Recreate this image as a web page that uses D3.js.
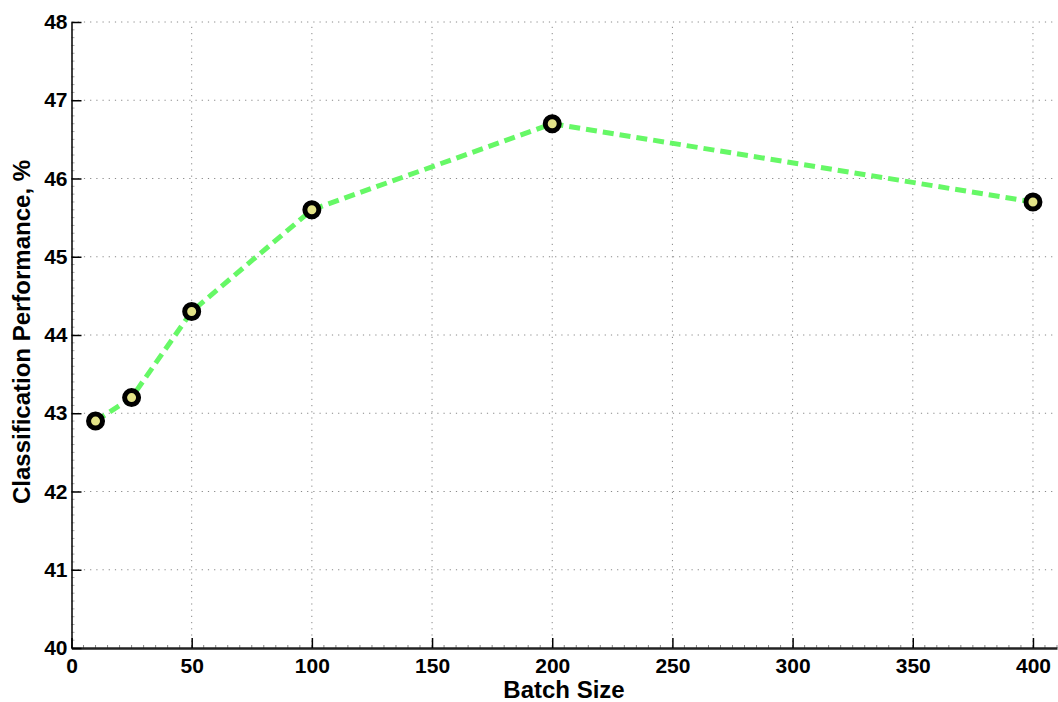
<!DOCTYPE html>
<html>
<head>
    <title>Batch Size vs Classification Performance</title>
    <style>
        body {
            margin: 0;
            padding: 0;
            background: #fff;
            font-family: "Liberation Sans", Arial, sans-serif;
        }
        .tick-label {
            font-weight: bold;
            font-size: 21px;
            fill: #000;
        }
        .axis-title {
            font-weight: bold;
            font-size: 24px;
            fill: #000;
        }
    </style>
</head>
<body>
    <div id="chart"></div>

    <script src="https://d3js.org/d3.v7.min.js"></script>
    <script>
        // data
        const batchSizes = [10, 25, 50, 100, 200, 400];
        const performance = [42.9, 43.2, 44.3, 45.6, 46.7, 45.7];
        const xTicks = [0, 50, 100, 150, 200, 250, 300, 350, 400];
        const yTicks = [40, 41, 42, 43, 44, 45, 46, 47, 48];

        const width = 1058, height = 702;
        const svg = d3.select('#chart').append('svg')
            .attr('width', width)
            .attr('height', height);

        const x = d3.scaleLinear().domain([0, 410]).range([71.5, 1057]);
        const y = d3.scaleLinear().domain([40, 48]).range([648, 22]);

        // dotted grid
        const grid = svg.append('g');
        grid.selectAll('line.gx')
            .data(xTicks.slice(1))
            .enter().append('line')
            .attr('x1', d => x(d)).attr('x2', d => x(d))
            .attr('y1', y(40)).attr('y2', y(48))
            .attr('stroke', '#888')
            .attr('stroke-width', 1)
            .attr('stroke-dasharray', '1.2,5');
        grid.selectAll('line.gy')
            .data(yTicks.slice(1))
            .enter().append('line')
            .attr('x1', x(0)).attr('x2', x(410))
            .attr('y1', d => y(d)).attr('y2', d => y(d))
            .attr('stroke', '#888')
            .attr('stroke-width', 1)
            .attr('stroke-dasharray', '1.2,5');

        // minor ticks
        const xMinor = d3.range(0, 411, 5);
        svg.append('g').selectAll('line')
            .data(xMinor)
            .enter().append('line')
            .attr('x1', d => x(d)).attr('x2', d => x(d))
            .attr('y1', y(40)).attr('y2', y(40) - 3)
            .attr('stroke', '#888');
        const yMinor = d3.range(40, 48.01, 0.1);
        svg.append('g').selectAll('line')
            .data(yMinor)
            .enter().append('line')
            .attr('x1', x(0)).attr('x2', x(0) + 3)
            .attr('y1', d => y(d)).attr('y2', d => y(d))
            .attr('stroke', '#aaa');

        // x axis (ticks inside)
        const xAxis = svg.append('g')
            .attr('transform', `translate(0,${y(40)})`)
            .call(d3.axisBottom(x).tickValues(xTicks).tickSizeInner(-10).tickSizeOuter(0).tickPadding(10));
        xAxis.select('.domain').attr('stroke', '#222').attr('stroke-width', 2.5);
        xAxis.selectAll('.tick line').attr('stroke', '#000').attr('stroke-width', 1.5);
        xAxis.selectAll('.tick text')
            .attr('class', 'tick-label')
            .attr('font-family', null)
            .attr('font-size', null);

        // y axis (ticks inside)
        const yAxis = svg.append('g')
            .attr('transform', `translate(${x(0)},0)`)
            .call(d3.axisLeft(y).tickValues(yTicks).tickSizeInner(-10).tickSizeOuter(0).tickPadding(4));
        yAxis.select('.domain').attr('stroke', '#000').attr('stroke-width', 1.5);
        yAxis.selectAll('.tick line').attr('stroke', '#000').attr('stroke-width', 1.5);
        yAxis.selectAll('.tick text')
            .attr('class', 'tick-label')
            .attr('font-family', null)
            .attr('font-size', null);

        // dashed series line
        const points = batchSizes.map((b, i) => ({ b, p: performance[i] }));
        const line = d3.line().x(d => x(d.b)).y(d => y(d.p));
        svg.append('path')
            .datum(points)
            .attr('d', line)
            .attr('fill', 'none')
            .attr('stroke', '#66f866')
            .attr('stroke-width', 5)
            .attr('stroke-dasharray', '11,6');

        // markers
        svg.append('g').selectAll('circle')
            .data(points)
            .enter().append('circle')
            .attr('cx', d => x(d.b))
            .attr('cy', d => y(d.p))
            .attr('r', 7)
            .attr('fill', '#e3e388')
            .attr('stroke', '#000')
            .attr('stroke-width', 5);

        // axis titles
        svg.append('text')
            .attr('class', 'axis-title')
            .attr('x', 564)
            .attr('y', 698)
            .attr('text-anchor', 'middle')
            .text('Batch Size');
        svg.append('text')
            .attr('class', 'axis-title')
            .attr('transform', 'translate(30,332) rotate(-90)')
            .attr('text-anchor', 'middle')
            .text('Classification Performance, %');
    </script>
</body>
</html>
